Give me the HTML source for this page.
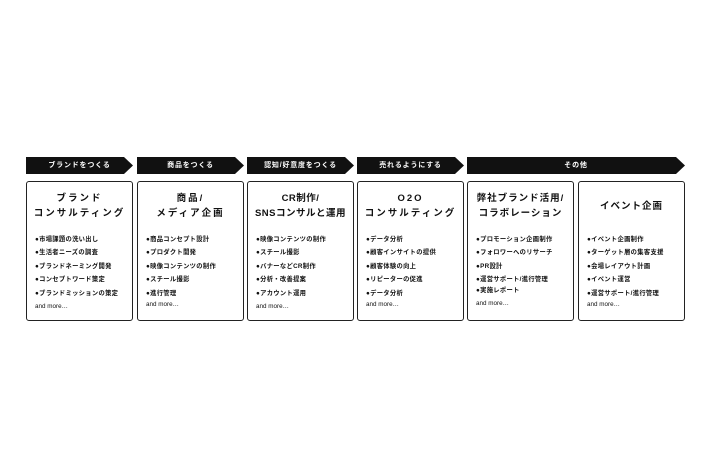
<!DOCTYPE html>
<html><head><meta charset="utf-8"><style>
*{margin:0;padding:0;box-sizing:border-box}
body{width:710px;height:474px;background:#fff;font-family:"Liberation Sans","Noto Sans CJK JP",sans-serif;position:relative;overflow:hidden;color:#111}
.h{position:absolute;top:157px;height:17px;background:#111;color:#fff;font-size:7px;font-weight:bold;text-align:center;line-height:17px;letter-spacing:0.8px;clip-path:polygon(0 0,calc(100% - 9px) 0,100% 50%,calc(100% - 9px) 100%,0 100%)}
.b{position:absolute;top:181px;height:140px;border:1.3px solid #222;border-radius:3px}
.t{position:absolute;left:0;right:0;text-align:center;font-size:9.5px;font-weight:bold;line-height:15px;letter-spacing:0.5px}
.w{letter-spacing:2px}
.l{position:absolute;left:8px;font-size:6.3px;font-weight:bold;white-space:nowrap;line-height:8px;letter-spacing:0.3px}
.m{font-weight:normal;letter-spacing:0}
</style></head><body>
<div class="h" style="left:26px;width:107px">ブランドをつくる</div>
<div class="h" style="left:137px;width:107px">商品をつくる</div>
<div class="h" style="left:247px;width:107px">認知/好意度をつくる</div>
<div class="h" style="left:357px;width:107px">売れるようにする</div>
<div class="h" style="left:467px;width:218px">その他</div>

<div class="b" style="left:26px;width:107px">
<div class="t w" style="top:9px">ブランド<br>コンサルティング</div>
<div class="l" style="top:54px">●市場課題の洗い出し</div>
<div class="l" style="top:67px">●生活者ニーズの調査</div>
<div class="l" style="top:81px">●ブランドネーミング開発</div>
<div class="l" style="top:94px">●コンセプトワード策定</div>
<div class="l" style="top:108px">●ブランドミッションの策定</div>
<div class="l m" style="top:121px">and more…</div>
</div>
<div class="b" style="left:137px;width:107px">
<div class="t w" style="top:9px">商品/<br>メディア企画</div>
<div class="l" style="top:54px">●商品コンセプト設計</div>
<div class="l" style="top:67px">●プロダクト開発</div>
<div class="l" style="top:81px">●映像コンテンツの制作</div>
<div class="l" style="top:94px">●スチール撮影</div>
<div class="l" style="top:108px">●進行管理</div>
<div class="l m" style="top:119px">and more…</div>
</div>
<div class="b" style="left:247px;width:107px">
<div class="t" style="top:9px">CR制作/<br>SNSコンサルと運用</div>
<div class="l" style="top:54px">●映像コンテンツの制作</div>
<div class="l" style="top:67px">●スチール撮影</div>
<div class="l" style="top:81px">●バナーなどCR制作</div>
<div class="l" style="top:94px">●分析・改善提案</div>
<div class="l" style="top:108px">●アカウント運用</div>
<div class="l m" style="top:121px">and more…</div>
</div>
<div class="b" style="left:357px;width:107px">
<div class="t w" style="top:9px">O2O<br>コンサルティング</div>
<div class="l" style="top:54px">●データ分析</div>
<div class="l" style="top:67px">●顧客インサイトの提供</div>
<div class="l" style="top:81px">●顧客体験の向上</div>
<div class="l" style="top:94px">●リピーターの促進</div>
<div class="l" style="top:108px">●データ分析</div>
<div class="l m" style="top:119px">and more…</div>
</div>
<div class="b" style="left:467px;width:107px">
<div class="t" style="top:9px;letter-spacing:1px">弊社ブランド活用/<br>コラボレーション</div>
<div class="l" style="top:54px">●プロモーション企画制作</div>
<div class="l" style="top:67px">●フォロワーへのリサーチ</div>
<div class="l" style="top:81px">●PR設計</div>
<div class="l" style="top:94px">●運営サポート/進行管理</div>
<div class="l" style="top:105px">●実施レポート</div>
<div class="l m" style="top:118px">and more…</div>
</div>
<div class="b" style="left:578px;width:107px">
<div class="t" style="top:17px;letter-spacing:1px">イベント企画</div>
<div class="l" style="top:54px">●イベント企画制作</div>
<div class="l" style="top:67px">●ターゲット層の集客支援</div>
<div class="l" style="top:81px">●会場レイアウト計画</div>
<div class="l" style="top:94px">●イベント運営</div>
<div class="l" style="top:108px">●運営サポート/進行管理</div>
<div class="l m" style="top:119px">and more…</div>
</div>
</body></html>
